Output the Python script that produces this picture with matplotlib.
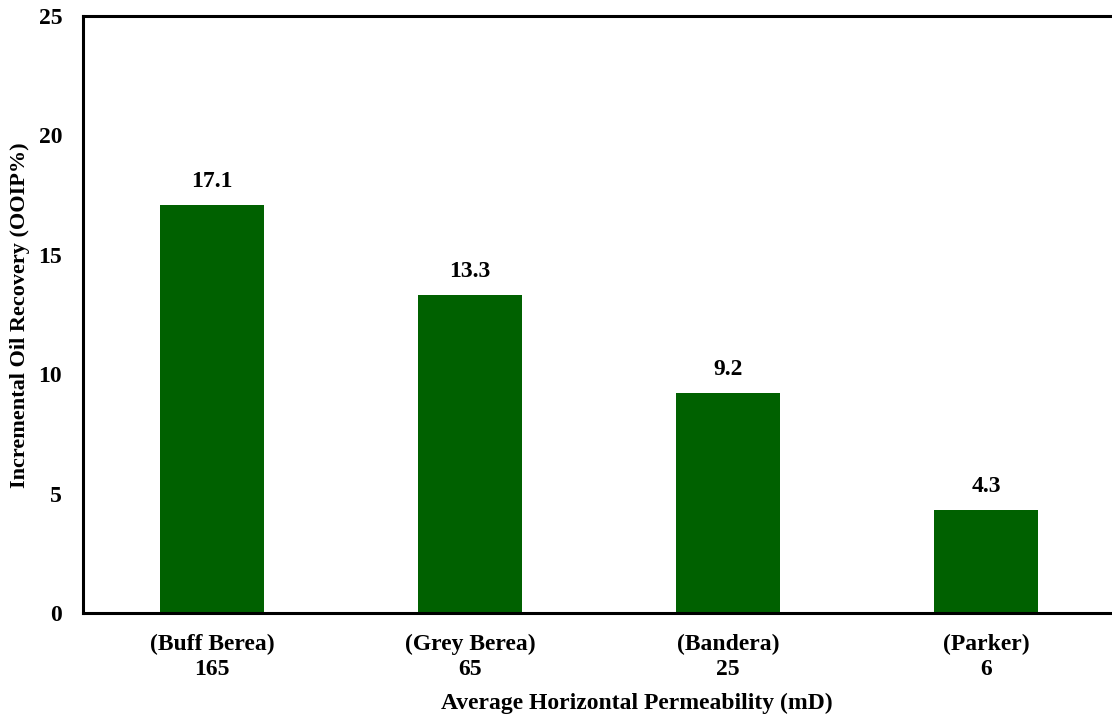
import matplotlib.pyplot as plt

# rock type, permeability (mD) and recovery
rocks = ["(Buff Berea)", "(Grey Berea)", "(Bandera)", "(Parker)"]
perm = ["165", "65", "25", "6"]
recovery = [17.1, 13.3, 9.2, 4.3]

plt.rcParams.update({
    "font.family": "Liberation Serif",
    "font.weight": "bold",
    "font.size": 17,
})

fig = plt.figure(figsize=(11.12, 7.17), dpi=100)
ax = fig.add_axes([83 / 1112, 1 - 613 / 717, (1115 - 83) / 1112, (613 - 16) / 717])

x = list(range(len(rocks)))
bars = ax.bar(x, recovery, width=0.40, color="#006100")
for b, v in zip(bars, recovery):
    ax.text(b.get_x() + b.get_width() / 2, v + 0.55, f"{v:.1f}",
            ha="center", va="bottom", fontweight="bold", fontsize=17)

ax.set_xlim(-0.5, 3.5)
ax.set_ylim(0, 25)
ax.set_yticks([0, 5, 10, 15, 20, 25])
ax.set_xticks(x)
ax.set_xticklabels([f"{r}\n{p}" for r, p in zip(rocks, perm)], linespacing=1.25)
ax.tick_params(length=0)
ax.tick_params(axis="x", pad=15)
ax.tick_params(axis="y", pad=15)

for s in ["left", "bottom", "top"]:
    ax.spines[s].set_linewidth(2.2)
ax.spines["right"].set_visible(False)

fig.text(637 / 1112, 1 - 703 / 717, "Average Horizontal Permeability (mD)",
         ha="center", va="center", fontweight="bold")
fig.text(20 / 1112, 1 - 315 / 717, "Incremental Oil Recovery (OOIP%)",
         ha="center", va="center", rotation=90, fontweight="bold", fontsize=16)

fig.savefig("out.png", dpi=100)
